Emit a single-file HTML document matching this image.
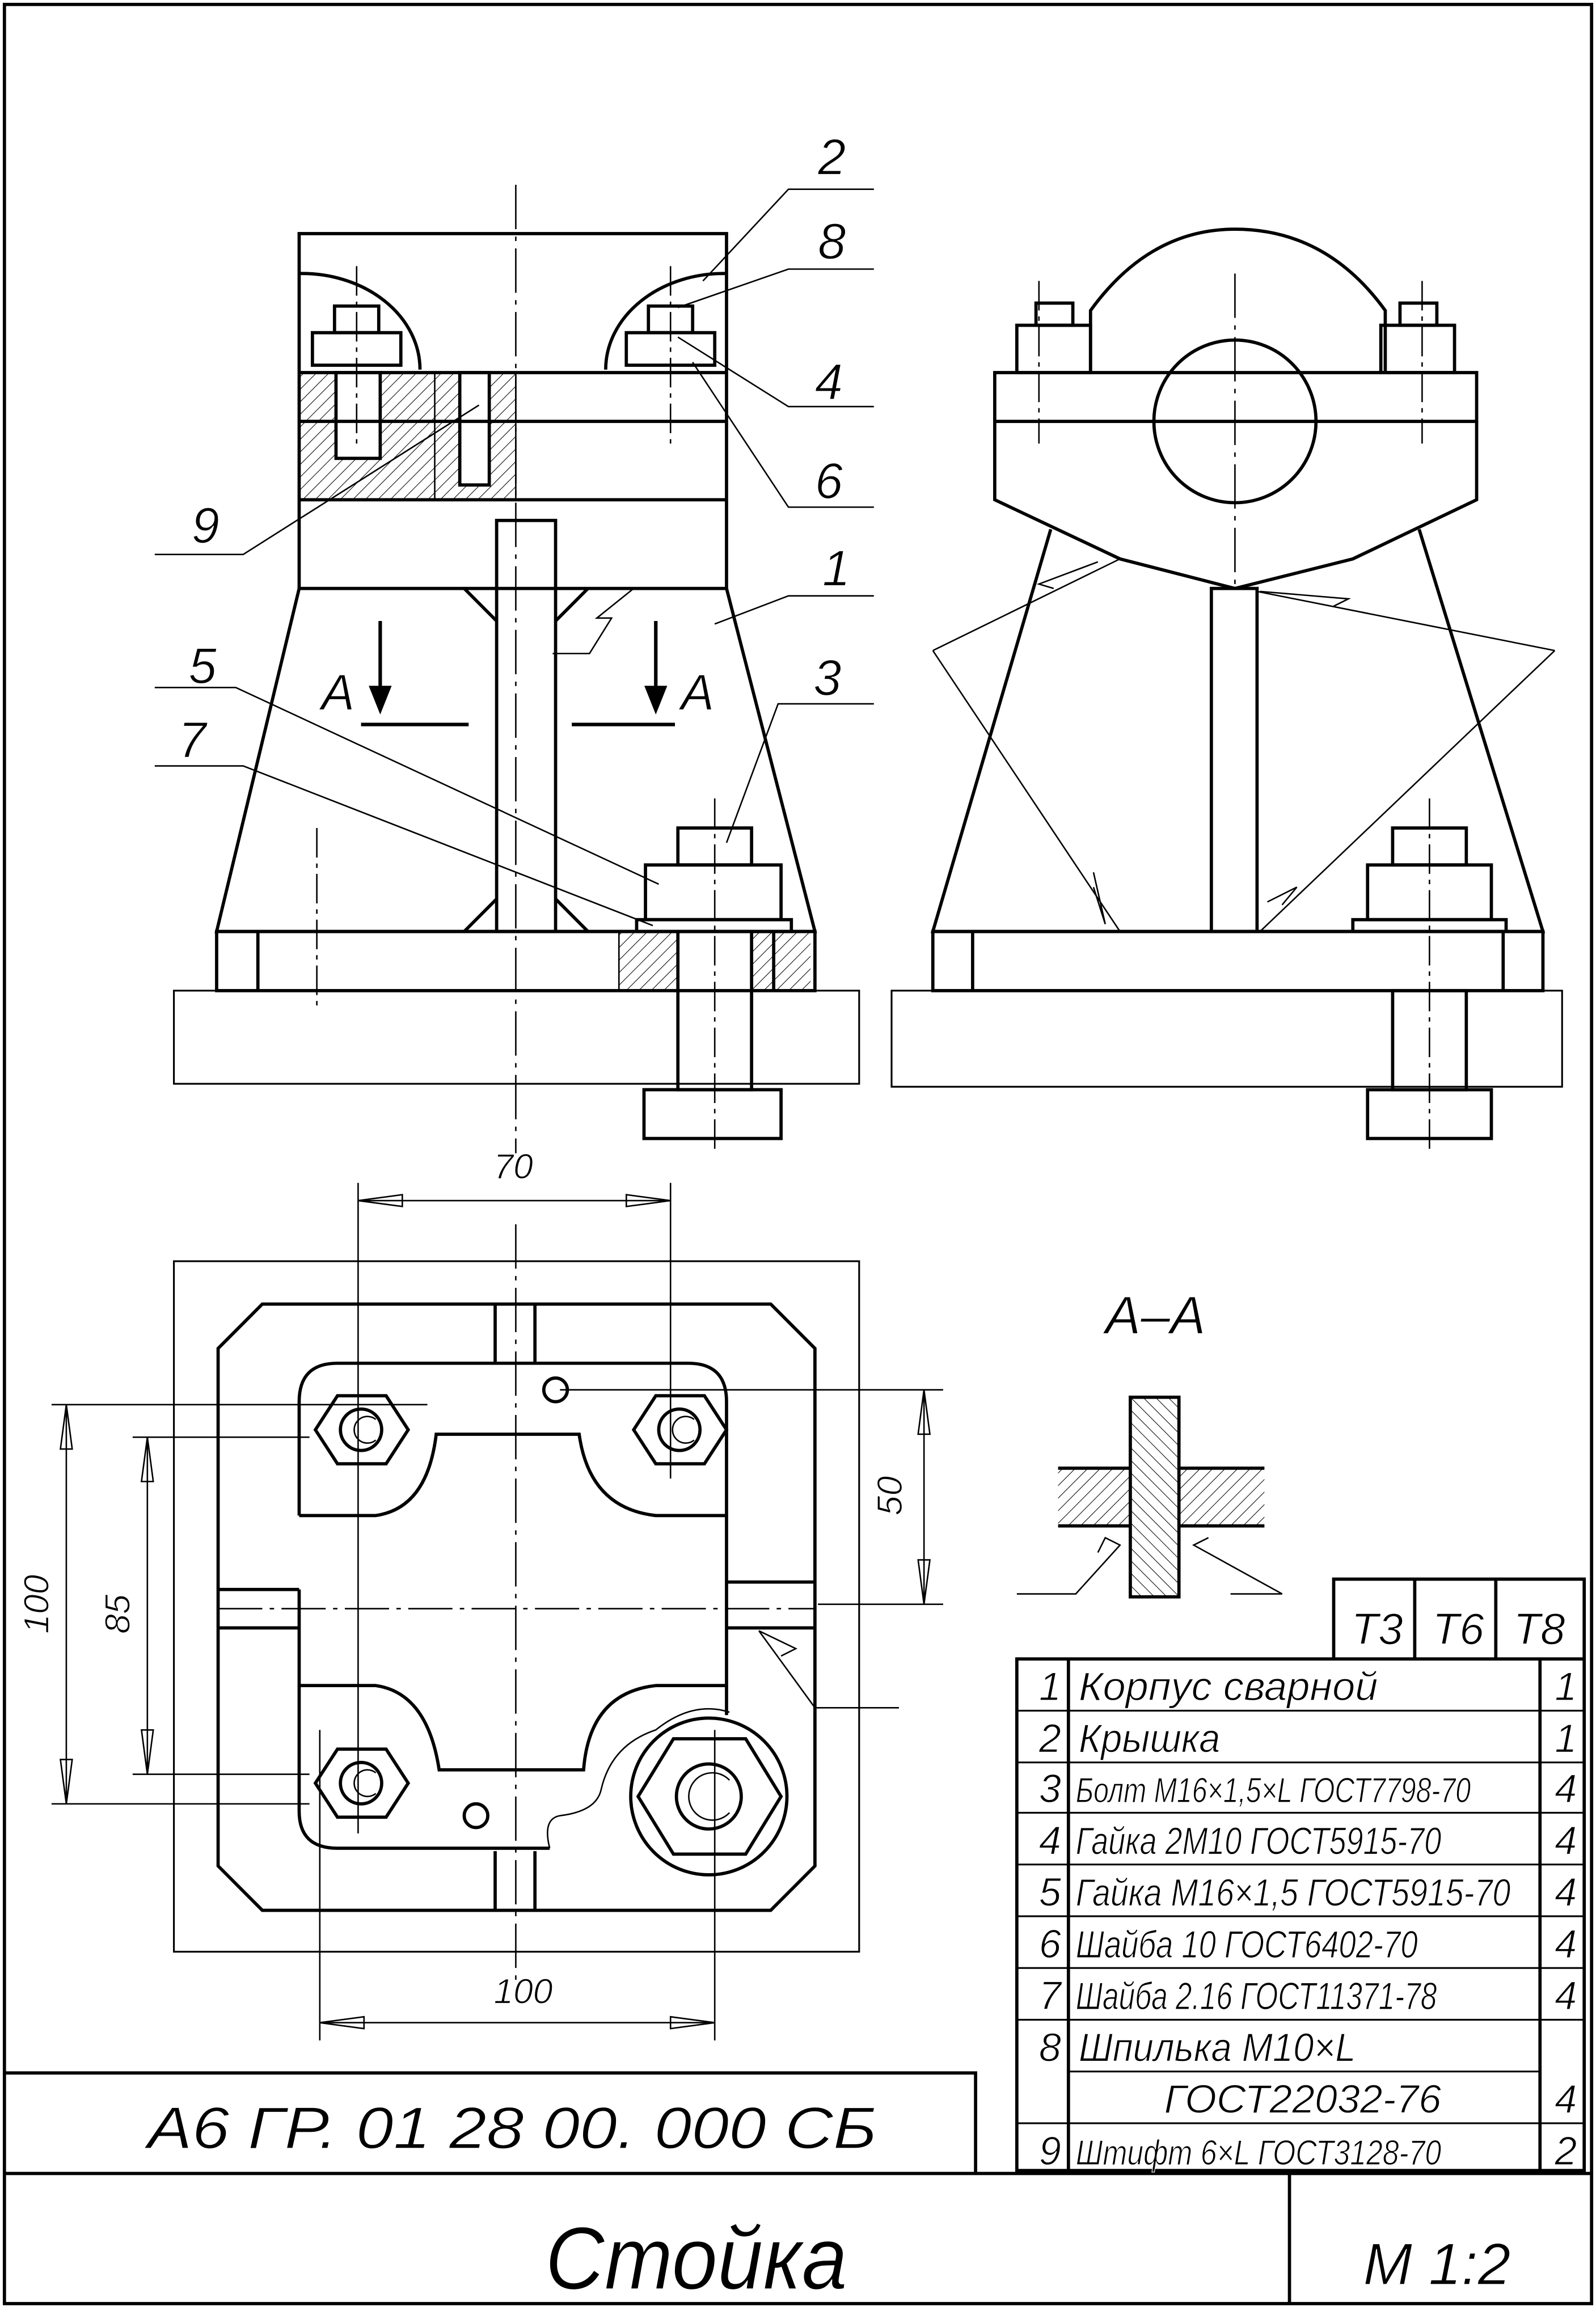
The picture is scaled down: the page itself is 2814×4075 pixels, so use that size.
<!DOCTYPE html>
<html><head><meta charset="utf-8"><style>
html,body{margin:0;padding:0;background:#fff}
svg{display:block}
text{font-family:"Liberation Sans",sans-serif;font-style:italic;fill:#000;stroke:#fff;stroke-width:0.5}
</style></head><body>
<svg width="2814" height="4075" viewBox="0 0 1083 1563" preserveAspectRatio="none" xmlns="http://www.w3.org/2000/svg">
<defs>
<pattern id="h" width="6" height="6" patternUnits="userSpaceOnUse" patternTransform="rotate(45)"><line x1="0" y1="0" x2="0" y2="6" stroke="#000" stroke-width="0.8"/></pattern>
<pattern id="h2" width="6" height="6" patternUnits="userSpaceOnUse" patternTransform="rotate(-45)"><line x1="0" y1="0" x2="0" y2="6" stroke="#000" stroke-width="0.8"/></pattern>
</defs>
<rect width="1083" height="1563" fill="#fff"/>
<g fill="none" stroke="#000" stroke-width="2.2" stroke-linejoin="miter">
<rect x="3" y="3" width="1077" height="1555"/>
<line x1="3" y1="1470" x2="1080" y2="1470"/>
<polyline points="3,1402 662,1402 662,1470"/>
<line x1="875" y1="1470" x2="875" y2="1558"/>
<rect x="690" y="1122" width="385" height="346"/>
<line x1="725" y1="1122" x2="725" y2="1468"/>
<line x1="1045" y1="1122" x2="1045" y2="1468"/>
<polyline points="905,1122 905,1068 1075,1068 1075,1122"/>
<line x1="960" y1="1068" x2="960" y2="1122"/>
<line x1="1015" y1="1068" x2="1015" y2="1122"/>
</g>
<g stroke="#000" stroke-width="1.2">
<line x1="690" y1="1157" x2="1075" y2="1157"/><line x1="690" y1="1192" x2="1075" y2="1192"/>
<line x1="690" y1="1226" x2="1075" y2="1226"/><line x1="690" y1="1261" x2="1075" y2="1261"/>
<line x1="690" y1="1296" x2="1075" y2="1296"/><line x1="690" y1="1331" x2="1075" y2="1331"/>
<line x1="690" y1="1366" x2="1075" y2="1366"/><line x1="725" y1="1401" x2="1045" y2="1401"/>
<line x1="690" y1="1436" x2="1075" y2="1436"/>
</g>
<g font-size="27">
<text x="705" y="1150">1</text><text x="732" y="1150" textLength="203" lengthAdjust="spacingAndGlyphs">Корпус сварной</text><text x="1055" y="1150">1</text>
<text x="705" y="1185">2</text><text x="732" y="1185" textLength="96" lengthAdjust="spacingAndGlyphs">Крышка</text><text x="1055" y="1185">1</text>
<text x="705" y="1219">3</text><text x="730" y="1219" font-size="24" textLength="268" lengthAdjust="spacingAndGlyphs">Болт М16×1,5×L ГОСТ7798-70</text><text x="1055" y="1219">4</text>
<text x="705" y="1254">4</text><text x="730" y="1254" font-size="26" textLength="248" lengthAdjust="spacingAndGlyphs">Гайка 2М10 ГОСТ5915-70</text><text x="1055" y="1254">4</text>
<text x="705" y="1289">5</text><text x="730" y="1289" font-size="26" textLength="295" lengthAdjust="spacingAndGlyphs">Гайка М16×1,5 ГОСТ5915-70</text><text x="1055" y="1289">4</text>
<text x="705" y="1324">6</text><text x="730" y="1324" font-size="26" textLength="232" lengthAdjust="spacingAndGlyphs">Шайба 10 ГОСТ6402-70</text><text x="1055" y="1324">4</text>
<text x="705" y="1359">7</text><text x="730" y="1359" font-size="26" textLength="245" lengthAdjust="spacingAndGlyphs">Шайба 2.16 ГОСТ11371-78</text><text x="1055" y="1359">4</text>
<text x="705" y="1394">8</text><text x="732" y="1394" textLength="188" lengthAdjust="spacingAndGlyphs">Шпилька М10×L</text>
<text x="790" y="1429" textLength="188" lengthAdjust="spacingAndGlyphs">ГОСТ22032-76</text><text x="1055" y="1429">4</text>
<text x="705" y="1464">9</text><text x="730" y="1464" font-size="24" textLength="248" lengthAdjust="spacingAndGlyphs">Штифт 6×L ГОСТ3128-70</text><text x="1055" y="1464">2</text>
<text x="917" y="1112" font-size="30">Т3</text><text x="972" y="1112" font-size="30">Т6</text><text x="1027" y="1112" font-size="30">Т8</text>
<text x="100" y="1453" font-size="40" textLength="495" lengthAdjust="spacingAndGlyphs">А6 ГР. 01 28 00. 000 СБ</text>
<text x="370" y="1548" font-size="60" textLength="205" lengthAdjust="spacingAndGlyphs">Стойка</text>
<text x="925" y="1545" font-size="40">М 1:2</text>
<text x="750" y="902" font-size="36">А–А</text>
<text x="335" y="797" font-size="24">70</text>
<text x="335" y="1355" font-size="24">100</text>
<text x="218" y="480" font-size="34">А</text><text x="462" y="480" font-size="34">А</text>
<text x="555" y="118" font-size="34">2</text><text x="555" y="175" font-size="34">8</text>
<text x="553" y="270" font-size="34">4</text><text x="553" y="337" font-size="34">6</text>
<text x="558" y="396" font-size="34">1</text><text x="552" y="470" font-size="34">3</text>
<text x="128" y="462" font-size="34">5</text><text x="121" y="512" font-size="34">7</text>
<text x="130" y="367" font-size="34">9</text>
<text transform="translate(33,1105) rotate(-90)" font-size="24">100</text>
<text transform="translate(88,1105) rotate(-90)" font-size="24">85</text>
<text transform="translate(612,1025) rotate(-90)" font-size="24">50</text>
</g>

<rect x="203" y="252" width="147" height="86" fill="url(#h)"/>
<rect x="228" y="252" width="30" height="58" fill="#fff"/>
<rect x="312" y="252" width="20" height="76" fill="#fff"/>
<rect x="420" y="630" width="40" height="40" fill="url(#h)"/>
<rect x="510" y="630" width="40" height="40" fill="url(#h)"/>
<rect x="767" y="945" width="33" height="135" fill="url(#h2)"/>
<rect x="718" y="993" width="49" height="39" fill="url(#h)"/>
<rect x="800" y="993" width="58" height="39" fill="url(#h)"/>
<g fill="none" stroke="#000" stroke-width="2.2">
<rect x="203" y="158" width="290" height="240"/>
<line x1="203" y1="252" x2="493" y2="252"/><line x1="203" y1="285" x2="493" y2="285"/>
<line x1="203" y1="338" x2="493" y2="338"/>
<path d="M203,185 A80,65 0 0 1 285,250"/>
<path d="M493,185 A80,65 0 0 0 411,250"/>
<polyline points="203,398 147,630 553,630 493,398"/>
<rect x="147" y="630" width="406" height="40"/>
<line x1="175" y1="630" x2="175" y2="670"/><line x1="525" y1="630" x2="525" y2="670"/>
<rect x="337" y="352" width="40" height="278"/>
<polyline points="315,398 337,420"/><polyline points="399,398 377,420"/>
<polyline points="315,630 337,608"/><polyline points="399,630 377,608"/>
<rect x="228" y="252" width="30" height="58"/>
<rect x="312" y="252" width="20" height="76"/>
<rect x="212" y="225" width="60" height="22"/><rect x="227" y="207" width="30" height="18"/>
<rect x="425" y="225" width="60" height="22"/><rect x="440" y="207" width="30" height="18"/>
<rect x="460" y="560" width="50" height="25"/>
<rect x="438" y="585" width="92" height="37"/>
<rect x="432" y="622" width="105" height="8"/>
<rect x="460" y="630" width="50" height="107"/>
<rect x="437" y="737" width="93" height="33"/>
<line x1="295" y1="252" x2="295" y2="338" stroke-width="1"/>
<line x1="350" y1="252" x2="350" y2="338" stroke-width="1"/>
<line x1="420" y1="630" x2="420" y2="670" stroke-width="1"/>
</g>
<rect x="118" y="670" width="465" height="63" fill="none" stroke="#000" stroke-width="1.2"/>
<g stroke="#000" stroke-width="2.4">
<line x1="258" y1="420" x2="258" y2="465"/><polygon points="252,465 264,465 258,480" fill="#000"/>
<line x1="445" y1="420" x2="445" y2="465"/><polygon points="439,465 451,465 445,480" fill="#000"/>
<line x1="245" y1="490" x2="318" y2="490"/><line x1="388" y1="490" x2="458" y2="490"/>
</g>

<g fill="none" stroke="#000" stroke-width="2.2">
<path d="M740,252 L740,210 Q780,155 838,155 Q900,155 940,210 L940,252"/>
<rect x="675" y="252" width="327" height="33"/>
<polyline points="675,285 675,338 760,378 838,398 918,378 1002,338 1002,285"/>
<circle cx="838" cy="285" r="55"/>
<polyline points="713,358 633,630 1047,630 963,358"/>
<rect x="633" y="630" width="414" height="40"/>
<line x1="660" y1="630" x2="660" y2="670"/><line x1="1020" y1="630" x2="1020" y2="670"/>
<rect x="822" y="398" width="31" height="232"/>
<rect x="690" y="220" width="50" height="32"/><rect x="703" y="205" width="25" height="15"/>
<rect x="937" y="220" width="50" height="32"/><rect x="950" y="205" width="25" height="15"/>
<rect x="945" y="560" width="50" height="25"/><rect x="928" y="585" width="84" height="37"/>
<rect x="918" y="622" width="104" height="8"/>
<rect x="945" y="670" width="50" height="67"/>
<rect x="928" y="737" width="84" height="33"/>
</g>
<rect x="605" y="670" width="455" height="65" fill="none" stroke="#000" stroke-width="1.2"/>

<rect x="118" y="853" width="465" height="467" fill="none" stroke="#000" stroke-width="1.2"/>
<g fill="none" stroke="#000" stroke-width="2.2">
<polygon points="178,882 523,882 553,912 553,1262 523,1292 178,1292 148,1262 148,912"/>
<path d="M203,1025 L203,948 Q203,922 229,922 L467,922 Q493,922 493,948 L493,1160"/>
<path d="M203,1075 L203,1225 Q203,1250 229,1250 L373,1250"/>
<path d="M203,1025 L255,1025 Q290,1020 296,970 L393,970 Q400,1020 445,1025 L493,1025"/>
<path d="M203,1140 L255,1140 Q290,1145 298,1197 L396,1197 Q400,1145 445,1140 L493,1140"/>
<line x1="148" y1="1075" x2="203" y2="1075"/><line x1="148" y1="1101" x2="203" y2="1101"/>
<line x1="493" y1="1070" x2="553" y2="1070"/><line x1="493" y1="1101" x2="553" y2="1101"/>
<line x1="336" y1="882" x2="336" y2="922"/><line x1="363" y1="882" x2="363" y2="922"/>
<line x1="336" y1="1252" x2="336" y2="1292"/><line x1="363" y1="1252" x2="363" y2="1292"/>
<polygon points="229,944 262,944 277,967 262,990 229,990 214,967"/>
<circle cx="245" cy="967" r="14"/>
<polygon points="445,944 478,944 493,967 478,990 445,990 430,967"/>
<circle cx="461" cy="967" r="14"/>
<polygon points="229,1183 262,1183 277,1206 262,1229 229,1229 214,1206"/>
<circle cx="245" cy="1206" r="14"/>
<circle cx="481" cy="1215" r="53"/>
<polygon points="457,1176 506,1176 530,1215 506,1254 457,1254 433,1215"/>
<circle cx="481" cy="1215" r="22"/>
<circle cx="377" cy="940" r="8"/><circle cx="323" cy="1228" r="8"/>
</g>
<g fill="none" stroke="#000" stroke-width="1">
<path d="M255,960 A9,9 0 1 0 255,974"/><path d="M471,960 A9,9 0 1 0 471,974"/>
<path d="M255,1199 A9,9 0 1 0 255,1213"/><path d="M495,1204 A16,16 0 1 0 495,1226"/>
</g>
<path d="M373,1250 Q368,1230 380,1228 Q405,1225 408,1210 Q415,1180 445,1170 Q470,1150 495,1158" fill="none" stroke="#000" stroke-width="1"/>

<g fill="none" stroke="#000" stroke-width="2.2">
<rect x="767" y="945" width="33" height="135"/>
<line x1="718" y1="993" x2="767" y2="993"/><line x1="718" y1="1032" x2="767" y2="1032"/>
<line x1="800" y1="993" x2="858" y2="993"/><line x1="800" y1="1032" x2="858" y2="1032"/>
</g>

<g fill="none" stroke="#000" stroke-width="1">
<line x1="350" y1="125" x2="350" y2="780" stroke-dasharray="30,5,3,5"/>
<line x1="838" y1="185" x2="838" y2="400" stroke-dasharray="30,5,3,5"/>
<line x1="455" y1="180" x2="455" y2="300" stroke-dasharray="20,4,3,4"/>
<line x1="242" y1="180" x2="242" y2="300" stroke-dasharray="20,4,3,4"/>
<line x1="485" y1="540" x2="485" y2="780" stroke-dasharray="20,4,3,4"/>
<line x1="215" y1="560" x2="215" y2="680" stroke-dasharray="20,4,3,4"/>
<line x1="970" y1="540" x2="970" y2="780" stroke-dasharray="20,4,3,4"/>
<line x1="705" y1="190" x2="705" y2="300" stroke-dasharray="20,4,3,4"/>
<line x1="965" y1="190" x2="965" y2="300" stroke-dasharray="20,4,3,4"/>
<line x1="350" y1="828" x2="350" y2="1340" stroke-dasharray="30,5,3,5"/>
<line x1="148" y1="1088" x2="553" y2="1088" stroke-dasharray="30,5,3,5"/>
<line x1="243" y1="800" x2="243" y2="1240"/><line x1="455" y1="800" x2="455" y2="1000"/>
<line x1="217" y1="1170" x2="217" y2="1380"/><line x1="485" y1="1170" x2="485" y2="1380"/>
<line x1="35" y1="950" x2="290" y2="950"/><line x1="35" y1="1220" x2="210" y2="1220"/>
<line x1="90" y1="972" x2="210" y2="972"/><line x1="90" y1="1200" x2="210" y2="1200"/>
<line x1="380" y1="940" x2="640" y2="940"/><line x1="555" y1="1085" x2="640" y2="1085"/>
<line x1="45" y1="950" x2="45" y2="1220"/><line x1="100" y1="972" x2="100" y2="1200"/>
<line x1="627" y1="940" x2="627" y2="1085"/>
<line x1="243" y1="812" x2="455" y2="812"/><line x1="217" y1="1368" x2="485" y2="1368"/>
<polyline points="243,812 273,808 273,816 243,812"/><polyline points="455,812 425,808 425,816 455,812"/>
<polyline points="217,1368 247,1364 247,1372 217,1368"/><polyline points="485,1368 455,1364 455,1372 485,1368"/>
<polyline points="45,950 41,980 49,980 45,950"/><polyline points="45,1220 41,1190 49,1190 45,1220"/>
<polyline points="100,972 96,1002 104,1002 100,972"/><polyline points="100,1200 96,1170 104,1170 100,1200"/>
<polyline points="627,940 623,970 631,970 627,940"/><polyline points="627,1085 623,1055 631,1055 627,1085"/>
<polyline points="477,190 535,128 593,128"/><polyline points="460,208 535,182 593,182"/>
<polyline points="460,228 535,275 593,275"/><polyline points="470,245 535,343 593,343"/>
<polyline points="485,422 535,403 593,403"/><polyline points="493,570 528,476 593,476"/>
<polyline points="447,598 160,465 105,465"/><polyline points="443,626 165,518 105,518"/>
<polyline points="325,274 165,375 105,375"/>
<polyline points="375,442 400,442 415,418 405,418 430,398"/>
<polyline points="633,440 760,630"/><polyline points="633,440 760,378"/>
<polyline points="1055,440 855,630"/><polyline points="1055,440 853,400"/>
<polyline points="745,380 705,395 715,398"/><polyline points="855,400 915,405 905,410"/>
<polyline points="742,590 750,625 742,600"/><polyline points="860,610 880,600 870,612"/>
<polyline points="610,1155 553,1155 515,1103 540,1115 530,1120"/>
<polyline points="690,1078 730,1078 760,1045 750,1040 745,1050"/>
<polyline points="835,1078 870,1078 810,1045 820,1040"/>
</g>
</svg>
</body></html>
